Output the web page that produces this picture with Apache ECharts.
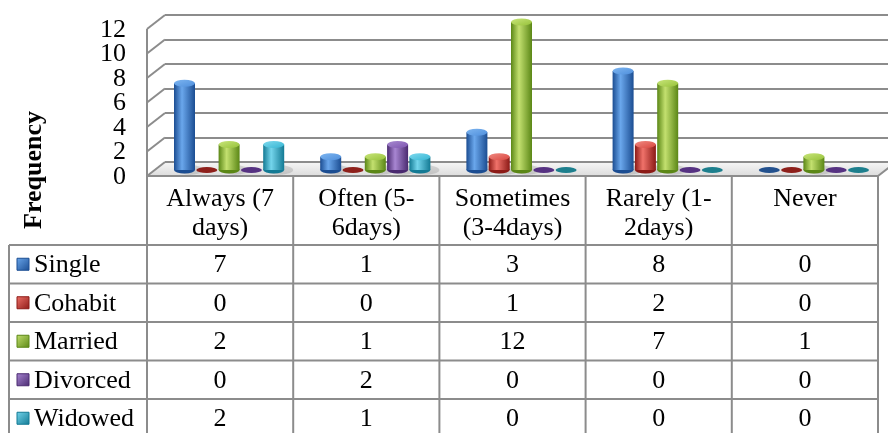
<!DOCTYPE html>
<html>
<head>
<meta charset="utf-8">
<script src="https://cdn.jsdelivr.net/npm/echarts@6/dist/echarts.min.js"></script>
<style>
  html, body { margin: 0; padding: 0; background: #ffffff; }
  #c { width: 888px; height: 433px; }
</style>
</head>
<body>
<div id="c"></div>
<script>
// ---- data ----
const categories = ['Always (7\ndays)', 'Often (5-\n6days)', 'Sometimes\n(3-4days)', 'Rarely (1-\n2days)', 'Never'];
const seriesNames = ['Single', 'Cohabit', 'Married', 'Divorced', 'Widowed'];
const single   = [7, 1, 3, 8, 0];
const cohabit  = [0, 0, 1, 2, 0];
const married  = [2, 1, 12, 7, 1];
const divorced = [0, 2, 0, 0, 0];
const widowed  = [2, 1, 0, 0, 0];
const yTicks = [0, 2, 4, 6, 8, 10, 12];
const yAxisTitle = 'Frequency';

const seriesValues = [single, cohabit, married, divorced, widowed];
const yMin = yTicks[0], yMax = yTicks[yTicks.length - 1], yStep = yTicks[1] - yTicks[0];

// ---- layout & style ----
const FRONT = { left: 147, top: 29, width: 731, height: 147 };  // front plane of the 3D box
const DX = 18, DY = -14;                                         // depth offset of back wall
const BAR_W = 21, BAR_STEP = 22.3, CAP_RY = 3.5;
const HEADER_H = 69, ROW_H = 38.5, TABLE_LEFT = 9;
const FONT = 'Liberation Serif';
const FONT_SIZE = 26;
const LINE_COLOR = '#8c8c8c';

const palette = [
  { dark: '#1b4d92', light: '#6aa7ec', cap: ['#4f8fdc', '#7db5f0'], flat: '#23518e' },
  { dark: '#8c1a16', light: '#f0726a', cap: ['#d94740', '#f08a82'], flat: '#8e201b' },
  { dark: '#5b8716', light: '#c3e06f', cap: ['#97c23a', '#c8e57a'], flat: '#6c9424' },
  { dark: '#4a2a70', light: '#a886d2', cap: ['#7e55b0', '#a78ad0'], flat: '#563282' },
  { dark: '#137a94', light: '#74d5ec', cap: ['#36b6d3', '#7fd9ee'], flat: '#1d7f8d' }
];

function renderCylinder(si) {
  return function (params, api) {
    const ci = api.value(0), v = api.value(1);
    const p0 = api.coord([ci, 0]);
    const p1 = api.coord([ci, v]);
    const cx = p0[0] + (si - 2) * BAR_STEP;
    const rx = BAR_W / 2;
    const c = palette[si];
    const ellipse = (cy, ry, fill) => ({
      type: 'circle', x: cx, y: cy, scaleY: ry / rx,
      shape: { cx: 0, cy: 0, r: rx }, style: { fill: fill }
    });
    if (v === 0) {
      return ellipse(p0[1] + 1, 3, c.flat);
    }
    const bodyFill = new echarts.graphic.LinearGradient(0, 0, 1, 0, [
      { offset: 0, color: c.dark },
      { offset: 0.38, color: c.light },
      { offset: 1, color: c.dark }
    ]);
    const capFill = new echarts.graphic.LinearGradient(0, 0, 1, 1, [
      { offset: 0, color: c.cap[1] },
      { offset: 1, color: c.cap[0] }
    ]);
    return {
      type: 'group',
      children: [
        { type: 'circle', x: cx + 6, y: p0[1] + 1, scaleY: 0.35,
          shape: { cx: 0, cy: 0, r: rx + 3 }, style: { fill: 'rgba(0,0,0,0.12)' } },
        ellipse(p0[1] + 1, CAP_RY, c.dark),
        { type: 'rect', shape: { x: cx - rx, y: p1[1], width: BAR_W, height: p0[1] + 1 - p1[1] },
          style: { fill: bodyFill } },
        ellipse(p1[1], CAP_RY, capFill)
      ]
    };
  };
}

const grids = [
  { left: FRONT.left + DX, top: FRONT.top + DY, width: FRONT.width, height: FRONT.height },           // back wall
  { left: FRONT.left + DX / 2, top: FRONT.top + DY / 2, width: FRONT.width, height: FRONT.height },   // bars
  { left: FRONT.left, top: FRONT.top, width: FRONT.width, height: FRONT.height }                     // front plane
];

const chart = echarts.init(document.getElementById('c'), null, { renderer: 'canvas' });

chart.setOption({
  animation: false,
  backgroundColor: '#ffffff',
  grid: grids.map(g => Object.assign({ containLabel: false }, g)),
  xAxis: grids.map((g, i) => ({
    type: 'category', gridIndex: i, data: categories, show: false, boundaryGap: true
  })),
  yAxis: grids.map((g, i) => ({
    type: 'value', gridIndex: i, min: yMin, max: yMax, interval: yStep,
    axisLine: { show: false }, axisTick: { show: false },
    splitLine: { show: i === 0, lineStyle: { color: LINE_COLOR, width: 2 } },
    axisLabel: { show: false }
  })),
  series: seriesValues.map((vals, si) => ({
    type: 'custom',
    name: seriesNames[si],
    xAxisIndex: 1, yAxisIndex: 1,
    encode: { x: 0, y: 1 },
    data: vals.map((v, ci) => [ci, v]),
    renderItem: renderCylinder(si),
    z: 5
  }))
});

// ---- 3D box walls, floor, tick labels and data table ----
const yFront = v => chart.convertToPixel({ yAxisIndex: 2 }, v);
const xCenter = i => chart.convertToPixel({ xAxisIndex: 2 }, i);
const band = FRONT.width / categories.length;
const x0 = FRONT.left, x1 = FRONT.left + FRONT.width;
const floorY = yFront(yMin);
const graphics = [];
const line = (ax, ay, bx, by, z) => ({
  type: 'line', z: z || 3, shape: { x1: ax, y1: ay, x2: bx, y2: by },
  style: { stroke: LINE_COLOR, lineWidth: 2 }
});

// floor
graphics.push({
  type: 'polygon', z: 1,
  shape: { points: [[x0, floorY], [x1, floorY], [x1 + DX, floorY + DY], [x0 + DX, floorY + DY]] },
  style: {
    fill: new echarts.graphic.LinearGradient(0, 0, 0, 1, [
      { offset: 0, color: '#f6f6f6' }, { offset: 1, color: '#dcdcdc' }
    ])
  }
});
graphics.push(line(x0 + DX, floorY + DY, x1 + DX, floorY + DY, 2));
graphics.push(line(x1, floorY, x1 + DX, floorY + DY, 2));

// left wall and value labels
graphics.push(line(x0, yFront(yMax), x0, floorY));
yTicks.forEach(t => {
  const y = yFront(t);
  graphics.push(line(x0, y, x0 + DX, y + DY));
  graphics.push({
    type: 'text', z: 7, x: x0 - 21, y: y + 1,
    style: { text: String(t), fill: '#000', fontFamily: FONT, fontSize: FONT_SIZE, align: 'right', verticalAlign: 'middle' }
  });
});

// table grid
const tableTop = floorY;
const bodyTop = tableTop + HEADER_H;
const tableBottom = bodyTop + ROW_H * seriesNames.length;
graphics.push(line(x0, tableTop, x1, tableTop, 6));
for (let i = 0; i <= categories.length; i++) {
  const x = x0 + i * band;
  graphics.push(line(x, tableTop, x, tableBottom, 6));
}
graphics.push(line(TABLE_LEFT, bodyTop, TABLE_LEFT, tableBottom, 6));
for (let r = 0; r <= seriesNames.length; r++) {
  const y = bodyTop + r * ROW_H;
  graphics.push(line(TABLE_LEFT, y, x1, y, 6));
}

// header labels
categories.forEach((cat, i) => {
  graphics.push({
    type: 'text', z: 7, x: xCenter(i), y: tableTop + 9,
    style: {
      text: cat, fill: '#000', fontFamily: FONT, fontSize: FONT_SIZE,
      lineHeight: 29, align: 'center', verticalAlign: 'top'
    }
  });
});

// rows: legend key, series name, values
seriesNames.forEach((name, r) => {
  const cy = bodyTop + r * ROW_H + ROW_H / 2;
  const c = palette[r];
  graphics.push({
    type: 'rect', z: 7, shape: { x: 17, y: cy - 6, width: 12, height: 12 },
    style: {
      fill: new echarts.graphic.LinearGradient(0, 0, 1, 1, [
        { offset: 0, color: c.light }, { offset: 1, color: c.dark }
      ]),
      stroke: c.dark, lineWidth: 1
    }
  });
  graphics.push({
    type: 'text', z: 7, x: 34, y: cy + 1,
    style: { text: name, fill: '#000', fontFamily: FONT, fontSize: FONT_SIZE, align: 'left', verticalAlign: 'middle' }
  });
  seriesValues[r].forEach((v, ci) => {
    graphics.push({
      type: 'text', z: 7, x: xCenter(ci), y: cy + 1,
      style: { text: String(v), fill: '#000', fontFamily: FONT, fontSize: FONT_SIZE, align: 'center', verticalAlign: 'middle' }
    });
  });
});

// axis title
graphics.push({
  type: 'text', z: 7, x: 34, y: 170, rotation: Math.PI / 2,
  style: {
    text: yAxisTitle, fill: '#000', fontFamily: FONT, fontSize: 26, fontWeight: 'bold',
    align: 'center', verticalAlign: 'middle'
  }
});

chart.setOption({ graphic: { elements: graphics } });
</script>
</body>
</html>
